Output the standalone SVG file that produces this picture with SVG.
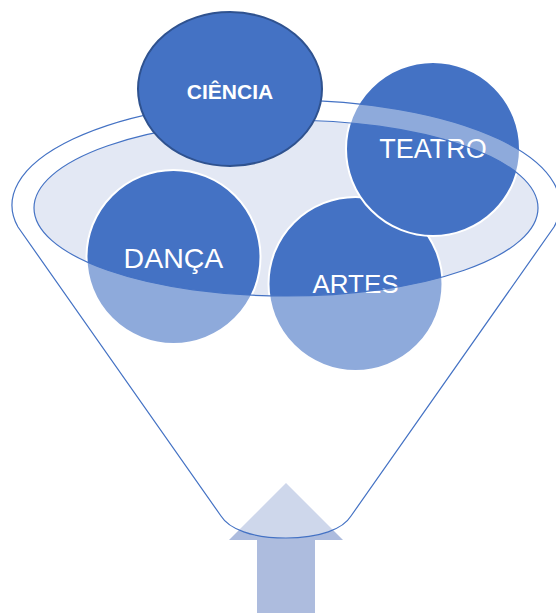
<svg xmlns="http://www.w3.org/2000/svg" width="556" height="613" viewBox="0 0 556 613">
<style>
.c{fill:#4472C4;stroke:#FFFFFF;stroke-width:2}
.t{font-family:"Liberation Sans",Arial,sans-serif;fill:#FFFFFF;text-anchor:middle}
</style>
<rect width="556" height="613" fill="#FFFFFF"/>
<g id="arrow">
<path d="M229 540 L286 483 L343 540 L315 540 L315 613 L257 613 L257 540 Z" fill="#ADBCDE"/>
</g>
<ellipse id="opening" cx="286" cy="208" rx="252" ry="88" fill="#E3E8F4"/>
<g id="danca">
<circle class="c" cx="173.5" cy="257" r="87"/>
<text class="t" x="173.5" y="268" font-size="28.5">DANÇA</text>
</g>
<g id="artes">
<circle class="c" cx="355.5" cy="284" r="87"/>
<text class="t" x="355.5" y="293" font-size="26">ARTES</text>
</g>
<g id="teatro">
<circle class="c" cx="433" cy="149" r="87"/>
<text class="t" x="433" y="158" font-size="27">TEATRO</text>
</g>
<g id="funnel">
<path d="M18 227 A274 105 0 1 1 554 227 L351 516 C343 529 320 538 286 538 C252 538 229 529 221 516 Z M34 208 A252 88 0 1 0 538 208 A252 88 0 1 0 34 208 Z" fill="#FFFFFF" fill-opacity="0.4" fill-rule="evenodd" stroke="#4472C4" stroke-width="1.2"/>
</g>
<g id="ciencia">
<ellipse cx="230" cy="89" rx="92" ry="77" fill="#4472C4" stroke="#2F528F" stroke-width="2"/>
<text class="t" x="230" y="99" font-size="21" font-weight="bold">CIÊNCIA</text>
</g>
<g id="connectors"></g>
</svg>
